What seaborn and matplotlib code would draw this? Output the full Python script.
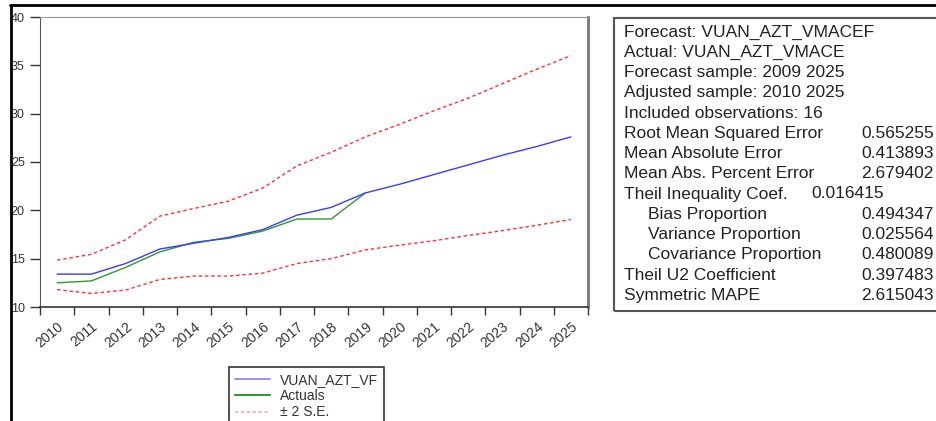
import numpy as np
import pandas as pd
import matplotlib.pyplot as plt
import matplotlib.lines as mlines
import matplotlib.patches as mpatches
import seaborn as sns

# ── Data ──
years = list(range(2010, 2026))
forecast = [13.4, 13.4, 14.5, 16.0, 16.6, 17.2, 18.0, 19.5, 20.3, 21.8,
            22.7, 23.7, 24.7, 25.7, 26.6, 27.6]
actuals = [12.5, 12.7, 14.1, 15.7, 16.7, 17.1, 17.85, 19.1, 19.1, 21.8]
upper_se = [14.85, 15.45, 16.95, 19.4, 20.2, 20.95, 22.3, 24.6, 26.0, 27.6,
            28.9, 30.3, 31.6, 33.1, 34.6, 36.0]
lower_se = [11.8, 11.4, 11.75, 12.85, 13.2, 13.2, 13.5, 14.5, 15.0, 15.9,
            16.4, 16.85, 17.4, 17.9, 18.45, 19.05]

stat_labels = ["Forecast: VUAN_AZT_VMACEF", "Actual: VUAN_AZT_VMACE",
               "Forecast sample: 2009 2025", "Adjusted sample: 2010 2025",
               "Included observations: 16", "Root Mean Squared Error",
               "Mean Absolute Error", "Mean Abs. Percent Error",
               "Theil Inequality Coef.", "Bias Proportion",
               "Variance Proportion", "Covariance Proportion",
               "Theil U2 Coefficient", "Symmetric MAPE"]
stat_values = ["", "", "", "", "", "0.565255", "0.413893", "2.679402",
               "0.016415", "0.494347", "0.025564", "0.480089", "0.397483",
               "2.615043"]
indented = {"Bias Proportion", "Variance Proportion", "Covariance Proportion"}

sns.set_style("white")
plt.rcParams["font.family"] = ["Liberation Sans", "DejaVu Sans"]

W, H = 936, 421
fig = plt.figure(figsize=(W / 100, H / 100), dpi=100)
ax = fig.add_axes([40 / W, 1 - 307 / H, 548 / W, 290 / H])

pos = np.arange(len(years))
df = pd.DataFrame({"pos": pos, "forecast": forecast,
                   "upper": upper_se, "lower": lower_se})
df_act = pd.DataFrame({"pos": pos[:len(actuals)], "actuals": actuals})

red_dash = (0, (2.5, 2))
sns.lineplot(data=df, x="pos", y="upper", ax=ax, color="#ff3030", lw=1.0,
             linestyle=red_dash, zorder=2)
sns.lineplot(data=df, x="pos", y="lower", ax=ax, color="#ff3030", lw=1.0,
             linestyle=red_dash, zorder=2)
sns.lineplot(data=df_act, x="pos", y="actuals", ax=ax, color="#2e9a2e",
             lw=1.0, zorder=3)
sns.lineplot(data=df, x="pos", y="forecast", ax=ax, color="#3a3aff", lw=1.0,
             zorder=4)

# axes
ax.set_xlim(-0.5, 15.5)
ax.set_ylim(10, 40)
ax.set_xlabel("")
ax.set_ylabel("")
ax.set_yticks(np.arange(10, 41, 5))
ax.tick_params(axis="y", length=7, width=1, color="#333333", pad=4,
               labelsize=9, labelcolor="#333333", left=True)
ax.set_xticks(np.arange(-0.5, 16, 1), minor=True)
ax.set_xticks(pos)
ax.set_xticklabels([str(y) for y in years], rotation=40, ha="right",
                   va="top", rotation_mode="anchor")
ax.tick_params(axis="x", which="major", length=0, pad=9, labelsize=10,
               labelcolor="#333333")
ax.tick_params(axis="x", which="minor", length=6, width=1, color="#333333",
               bottom=True)
ax.spines["top"].set_color("#999999")
ax.spines["right"].set_color("#777777")
ax.spines["right"].set_linewidth(2)
ax.spines["left"].set_color("#555555")
ax.spines["bottom"].set_color("#333333")
ax.spines["bottom"].set_linewidth(1.2)

# legend
handles = [mlines.Line2D([], [], color="#7f7fff", lw=1.2),
           mlines.Line2D([], [], color="#2e9a2e", lw=1.5),
           mlines.Line2D([], [], color="#ffaaaa", lw=1.2, linestyle=(0, (2, 1.5)))]
leg = fig.legend(handles, ["VUAN_AZT_VF", "Actuals", "± 2 S.E."],
                 loc="upper left", bbox_to_anchor=(229 / W, 1 - 367 / H),
                 frameon=True, fancybox=False, edgecolor="black",
                 fontsize=10, handlelength=2.5, handletextpad=0.7,
                 labelspacing=0.15, borderpad=0.45, borderaxespad=0)
leg.get_frame().set_linewidth(1.2)
for t in leg.get_texts():
    t.set_color("#333333")

# outer frame lines
fig.add_artist(mlines.Line2D([10 / W, 1], [1 - 5 / H, 1 - 5 / H],
                             color="black", lw=2, transform=fig.transFigure))
fig.add_artist(mlines.Line2D([11 / W, 11 / W], [0, 1 - 5 / H],
                             color="black", lw=2, transform=fig.transFigure))

# statistics box
fig.add_artist(mpatches.Rectangle((614 / W, 1 - 311 / H), 340 / W, 293 / H,
                                  fill=False, edgecolor="#555555", lw=1.5,
                                  transform=fig.transFigure))
for i, (lab, val) in enumerate(zip(stat_labels, stat_values)):
    y = 1 - (32 + i * 20.25) / H
    x = 648 if lab in indented else 624
    fig.text(x / W, y, lab, fontsize=12.5, color="#222222", va="center")
    if val:
        vx = 811 if lab.startswith("Theil Inequality") else 861
        fig.text(vx / W, y, val, fontsize=12.5, color="#222222", va="center")

fig.savefig("out.png", dpi=100)
